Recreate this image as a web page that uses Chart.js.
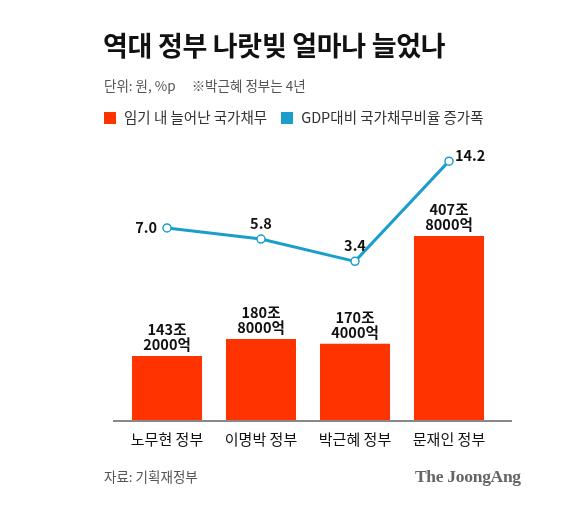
<!DOCTYPE html>
<html><head><meta charset="utf-8">
<script src="https://cdn.jsdelivr.net/npm/chart.js@4/dist/chart.umd.min.js"></script>
<style>
html,body{margin:0;padding:0;background:#fff;}
body{width:576px;height:520px;position:relative;overflow:hidden;font-family:"Noto Sans CJK KR","Noto Sans",sans-serif;}
#wrap{position:absolute;left:0;top:0;width:576px;height:520px;}
.t{position:absolute;white-space:nowrap;}
#title{left:103px;top:27px;font-size:27px;font-weight:700;color:#111;letter-spacing:-0.3px;line-height:36px;}
#sub{left:104px;top:76px;font-size:13.5px;color:#555;line-height:18px;}
#leg{left:104px;top:108px;font-size:14.5px;color:#333;line-height:18px;}
.sw{display:inline-block;width:12px;height:12px;vertical-align:-1px;margin-right:8px;}
#src{left:104px;top:467px;font-size:13.5px;color:#555;line-height:18px;}
#logo{left:415px;top:466px;font-family:"Liberation Serif","DejaVu Serif",serif;font-weight:700;font-size:17.5px;color:#666;letter-spacing:-0.3px;}
</style></head>
<body>
<div id="wrap"><canvas id="c" width="576" height="520"></canvas></div>
<div class="t" id="title">역대 정부 나랏빚 얼마나 늘었나</div>
<div class="t" id="sub">단위: 원, %p<span style="display:inline-block;width:16px"></span>※박근혜 정부는 4년</div>
<div class="t" id="leg"><span class="sw" style="background:#ff3300"></span>임기 내 늘어난 국가채무<span style="display:inline-block;width:14px"></span><span class="sw" style="background:#1a9fcc"></span>GDP대비 국가채무비율 증가폭</div>
<div class="t" id="src">자료: 기획재정부</div>
<div class="t" id="logo">The JoongAng</div>
<script>
const categories = ["노무현 정부", "이명박 정부", "박근혜 정부", "문재인 정부"];
const debtIncrease = [143.2, 180.8, 170.4, 407.8];          // 조 원
const debtLabels = [["143조", "2000억"], ["180조", "8000억"], ["170조", "4000억"], ["407조", "8000억"]];
const ratioIncrease = [7.0, 5.8, 3.4, 14.2];                 // %p
const ratioLabels = ["7.0", "5.8", "3.4", "14.2"];

const RED = "#ff3300", BLUE = "#1a9fcc";

const labelPlugin = {
  id: "labels",
  afterDatasetsDraw(chart) {
    const ctx = chart.ctx;
    ctx.save();
    ctx.fillStyle = "#111";
    ctx.font = "700 14.5px 'Noto Sans CJK KR', sans-serif";
    ctx.textAlign = "center";
    ctx.textBaseline = "alphabetic";
    chart.getDatasetMeta(0).data.forEach((bar, i) => {
      const lines = debtLabels[i];
      ctx.fillText(lines[0], bar.x, bar.y - 21);
      ctx.fillText(lines[1], bar.x, bar.y - 6);
    });
    const pts = chart.getDatasetMeta(1).data;
    ctx.font = "700 14.5px 'Noto Sans CJK KR', sans-serif";
    ctx.textBaseline = "middle";
    pts.forEach((p, i) => {
      if (i === 0) { ctx.textAlign = "right"; ctx.fillText(ratioLabels[i], p.x - 10, p.y); }
      else if (i === pts.length - 1) { ctx.textAlign = "left"; ctx.fillText(ratioLabels[i], p.x + 6, p.y - 6); }
      else { ctx.textAlign = "center"; ctx.fillText(ratioLabels[i], p.x, p.y - 16); }
    });
    ctx.restore();
  }
};

const baselinePlugin = {
  id: "baseline",
  afterDatasetsDraw(chart) {
    const {ctx, chartArea} = chart;
    const y = chart.scales.y.getPixelForValue(0);
    ctx.save();
    ctx.strokeStyle = "#888";
    ctx.lineWidth = 2;
    ctx.beginPath();
    ctx.moveTo(chartArea.left - 7, y);
    ctx.lineTo(chartArea.right + 16, y);
    ctx.stroke();
    ctx.restore();
  }
};

new Chart(document.getElementById("c"), {
  data: {
    labels: categories,
    datasets: [
      { type: "bar", data: debtIncrease, backgroundColor: RED, yAxisID: "y",
        barPercentage: 0.745, categoryPercentage: 1, order: 2 },
      { type: "line", data: ratioIncrease, borderColor: BLUE, borderWidth: 3, yAxisID: "y2",
        pointRadius: 4, pointBorderWidth: 1.5, pointBackgroundColor: "#fff", pointBorderColor: BLUE,
        tension: 0, order: 1 }
    ]
  },
  options: {
    responsive: false,
    animation: false,
    events: [],
    layout: { padding: { left: 120, right: 80, top: 150, bottom: 69 } },
    plugins: { legend: { display: false }, tooltip: { enabled: false } },
    scales: {
      x: {
        grid: { display: false, drawTicks: false },
        border: { display: false },
        ticks: { color: "#111", font: { family: "'Noto Sans CJK KR', sans-serif", size: 15 }, padding: 9 },
        afterFit(s) { s.height = 30; }
      },
      y: { display: false, min: 0, max: 597 },
      y2: { display: false, min: -13.8, max: 15.4 }
    }
  },
  plugins: [labelPlugin, baselinePlugin]
});
</script>
</body></html>
